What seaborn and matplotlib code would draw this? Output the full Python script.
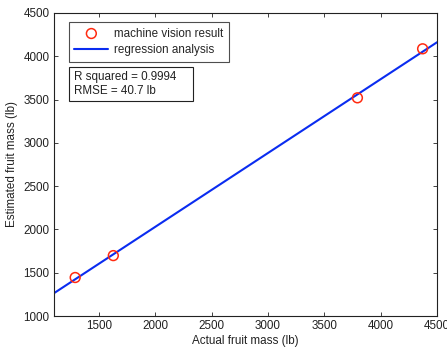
import numpy as np
import pandas as pd
import seaborn as sns
import matplotlib
matplotlib.use("Agg")
import matplotlib.pyplot as plt
from matplotlib.patches import Rectangle

actual_mass = [1291, 1629, 3793, 4371]
estimated_mass = [1445, 1698, 3520, 4086]
x_ticks = [1500, 2000, 2500, 3000, 3500, 4000, 4500]
y_ticks = [1000, 1500, 2000, 2500, 3000, 3500, 4000, 4500]
stats_text = "R squared = 0.9994\nRMSE = 40.7 lb"

sns.set_style("ticks")
plt.rcParams['font.family'] = ['Liberation Sans', 'DejaVu Sans']
FS = 8.4
plt.rcParams['font.size'] = FS

df = pd.DataFrame({"actual": actual_mass, "estimated": estimated_mass})

fig = plt.figure(figsize=(4.47, 3.5), dpi=100)
ax = fig.add_axes([0.120, 0.097, 0.858, 0.866])
ax.set_xlim(1100, 4500)
ax.set_ylim(1000, 4500)

sns.scatterplot(data=df, x="actual", y="estimated", ax=ax, marker="o", s=50,
                facecolors="none", edgecolor="#ff2a10", linewidth=1.1,
                label="machine vision result", zorder=3)
sns.regplot(data=df, x="actual", y="estimated", ax=ax, scatter=False, ci=None,
            truncate=False, color="#0a2cf0", line_kws={"linewidth": 1.5},
            label="regression analysis")
ax.set_xlim(1100, 4500)
ax.set_ylim(1000, 4500)

ax.set_xticks(x_ticks)
ax.set_yticks(y_ticks)
ax.tick_params(direction="in", length=3, width=0.6, top=True, right=True,
               labelsize=FS, colors="#222222", pad=3)
for s in ax.spines.values():
    s.set_visible(True)
    s.set_linewidth(0.8)
    s.set_color("#222222")

ax.set_xlabel("Actual fruit mass (lb)", fontsize=FS, labelpad=2, color="#222222")
ax.set_ylabel("Estimated fruit mass (lb)", fontsize=FS, labelpad=4, color="#222222")

leg = ax.legend(loc="upper left", bbox_to_anchor=(0.039, 0.971), borderaxespad=0,
                frameon=True, fancybox=False, edgecolor="#222222", fontsize=FS,
                handlelength=2.9, borderpad=0.5, labelspacing=0.4,
                handletextpad=0.45)
leg.get_frame().set_linewidth(0.8)

box = Rectangle((0.039, 0.710), 0.324, 0.112, transform=ax.transAxes,
                facecolor="white", edgecolor="#222222", linewidth=0.8, zorder=4)
ax.add_patch(box)
ax.text(0.052, 0.809, stats_text, transform=ax.transAxes, fontsize=FS,
        va="top", ha="left", linespacing=1.25, color="#222222", zorder=5)

fig.savefig("out.png", dpi=100)
